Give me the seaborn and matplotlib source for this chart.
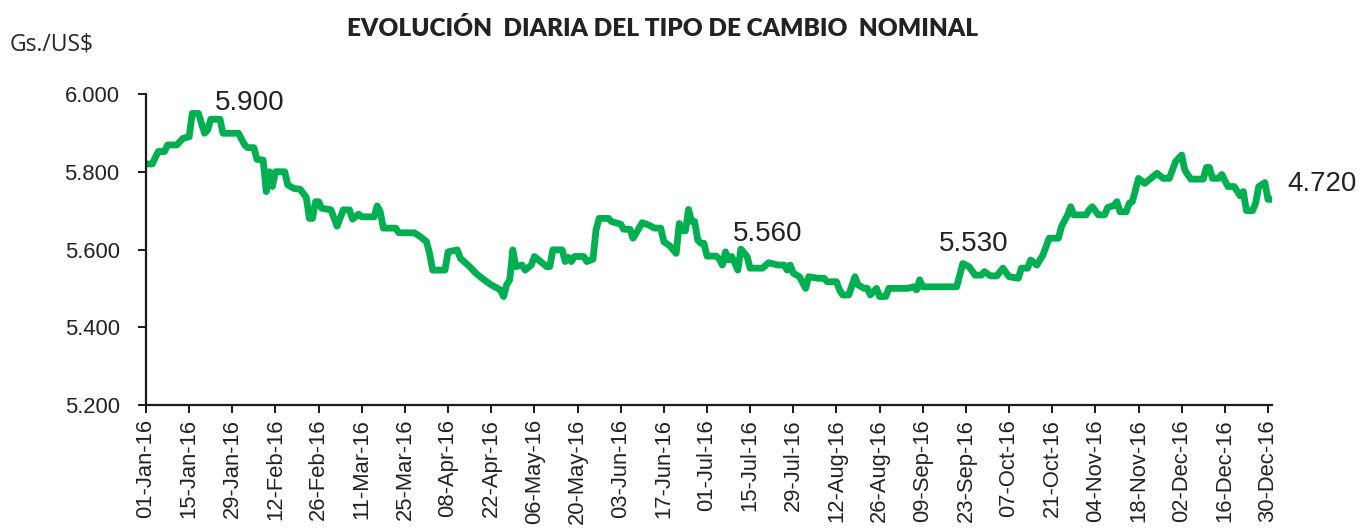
import matplotlib
matplotlib.use("Agg")
import matplotlib.pyplot as plt
import matplotlib.dates as mdates
import seaborn as sns
import pandas as pd
import numpy as np

# Daily nominal exchange rate, Gs. per US$, 2016 (day offset from 01-Jan-2016)
day_offset = [
    0, 2, 4, 6, 7, 10, 12, 14, 15, 17, 19, 20, 21, 24, 25, 30, 32, 33, 35, 36,
    38, 39, 40, 41, 42, 45, 46, 48, 50, 52, 53, 54, 55, 56, 57, 60, 62, 64, 66, 67,
    69, 70, 74, 75, 76, 77, 81, 82, 87, 89, 91, 92, 93, 97, 98, 101, 102, 105, 107, 109,
    112, 115, 116, 117, 118, 119, 120, 122, 123, 125, 126, 128, 130, 131, 132, 135, 136, 137, 138, 139,
    142, 143, 145, 146, 147, 150, 151, 154, 155, 157, 158, 159, 161, 163, 165, 167, 168, 170, 172, 173,
    174, 175, 176, 177, 178, 179, 180, 181, 182, 185, 186, 187, 188, 189, 190, 191, 192, 193, 195, 196,
    200, 202, 205, 207, 208, 209, 210, 212, 214, 215, 218, 220, 221, 224, 225, 226, 228, 230, 231, 233,
    234, 235, 237, 238, 240, 241, 247, 249, 250, 251, 252, 263, 265, 267, 269, 271, 272, 274, 276, 278,
    280, 283, 284, 286, 287, 289, 291, 293, 296, 297, 299, 300, 301, 305, 306, 307, 309, 311, 312, 314,
    315, 316, 318, 319, 320, 322, 324, 326, 328, 330, 332, 334, 336, 337, 338, 339, 343, 344, 345, 346,
    348, 349, 351, 353, 355, 356, 357, 359, 360, 361, 363, 364, 365,
]
rate = [
    5.820, 5.820, 5.852, 5.852, 5.869, 5.869, 5.886, 5.890, 5.950, 5.950, 5.899, 5.907, 5.935, 5.935, 5.899, 5.899, 5.869, 5.862, 5.862, 5.832,
    5.830, 5.749, 5.800, 5.762, 5.800, 5.800, 5.766, 5.757, 5.755, 5.734, 5.680, 5.680, 5.723, 5.723, 5.706, 5.702, 5.660, 5.702, 5.702, 5.678,
    5.691, 5.684, 5.684, 5.712, 5.697, 5.655, 5.655, 5.643, 5.643, 5.633, 5.620, 5.590, 5.547, 5.547, 5.594, 5.599, 5.577, 5.556, 5.539, 5.526,
    5.509, 5.496, 5.479, 5.509, 5.522, 5.599, 5.556, 5.560, 5.547, 5.560, 5.582, 5.569, 5.556, 5.556, 5.599, 5.599, 5.569, 5.580, 5.569, 5.582,
    5.582, 5.569, 5.575, 5.650, 5.680, 5.680, 5.672, 5.665, 5.652, 5.652, 5.629, 5.642, 5.669, 5.663, 5.655, 5.655, 5.620, 5.609, 5.590, 5.667,
    5.648, 5.648, 5.703, 5.672, 5.672, 5.624, 5.616, 5.616, 5.583, 5.583, 5.575, 5.560, 5.594, 5.573, 5.582, 5.566, 5.547, 5.601, 5.582, 5.552,
    5.552, 5.566, 5.560, 5.560, 5.547, 5.560, 5.539, 5.530, 5.500, 5.530, 5.526, 5.526, 5.517, 5.517, 5.496, 5.483, 5.483, 5.530, 5.509, 5.500,
    5.500, 5.483, 5.500, 5.479, 5.479, 5.500, 5.500, 5.504, 5.496, 5.522, 5.504, 5.504, 5.564, 5.556, 5.534, 5.534, 5.543, 5.532, 5.532, 5.552,
    5.530, 5.526, 5.552, 5.552, 5.573, 5.560, 5.586, 5.629, 5.629, 5.659, 5.689, 5.710, 5.689, 5.689, 5.702, 5.710, 5.689, 5.689, 5.708, 5.713,
    5.723, 5.697, 5.697, 5.719, 5.723, 5.783, 5.770, 5.783, 5.796, 5.783, 5.783, 5.826, 5.843, 5.805, 5.792, 5.781, 5.781, 5.811, 5.811, 5.783,
    5.783, 5.793, 5.762, 5.762, 5.738, 5.749, 5.700, 5.700, 5.719, 5.762, 5.772, 5.729, 5.729,
]

# Value call-outs written on the chart and where they sit (day offset, y)
callout_text = ["5.900", "5.560", "5.530", "4.720"]
callout_day = [22.4, 190.5, 257.3, 370.2]
callout_y = [5.977, 5.640, 5.614, 5.769]

y_ticks = [5.2, 5.4, 5.6, 5.8, 6.0]
y_tick_labels = ["5.200", "5.400", "5.600", "5.800", "6.000"]

start = pd.Timestamp("2016-01-01")
df = pd.DataFrame({
    "fecha": start + pd.to_timedelta(day_offset, unit="D"),
    "tipo_cambio": rate,
})

sns.set_theme(style="white")
plt.rcParams["font.family"] = ["Liberation Sans", "DejaVu Sans"]

fig = plt.figure(figsize=(13.6, 5.29), dpi=100)
ax = fig.add_axes([146 / 1360, 1 - 405 / 529, (1272 - 146) / 1360, (405 - 94) / 529])

sns.lineplot(data=df, x="fecha", y="tipo_cambio", ax=ax, color="#00B050",
             linewidth=4.9, solid_joinstyle="round", solid_capstyle="round")

ax.set_ylim(5.2, 6.0)
ax.set_xlim(start, start + pd.Timedelta(days=365.3))
ax.set_yticks(y_ticks)
ax.set_yticklabels(y_tick_labels)

tick_dates = pd.date_range("2016-01-01", "2016-12-30", freq="14D")
ax.set_xticks(tick_dates)
ax.xaxis.set_major_formatter(mdates.DateFormatter("%d-%b-%y"))
plt.setp(ax.get_xticklabels(), rotation=90)

ax.set_xlabel("")
ax.set_ylabel("")
for side in ("top", "right"):
    ax.spines[side].set_visible(False)
for side in ("left", "bottom"):
    ax.spines[side].set_color("#1a1a1a")
    ax.spines[side].set_linewidth(1.6)
ax.tick_params(axis="both", which="major", direction="out", length=6, width=1.4,
               color="#1a1a1a", labelsize=15.8, labelcolor="#222222", pad=4,
               left=True, bottom=True)
ax.tick_params(axis="y", pad=13)
ax.grid(False)

for txt, d, yv in zip(callout_text, callout_day, callout_y):
    ax.text(start + pd.Timedelta(days=d), yv, txt, ha="left", va="center",
            fontsize=20, color="#222222", clip_on=False)

fig.text(663 / 1360, 1 - 28 / 529, "EVOLUCIÓN  DIARIA DEL TIPO DE CAMBIO  NOMINAL",
         ha="center", va="center", fontsize=17.6, fontweight="heavy",
         family=["Lato", "DejaVu Sans"], color="#222222")
fig.text(10 / 1360, 1 - 45 / 529, "Gs./US$", ha="left", va="center",
         fontsize=16.5, family=["Open Sans", "DejaVu Sans"], color="#262626")

fig.savefig("out.png", dpi=100)
